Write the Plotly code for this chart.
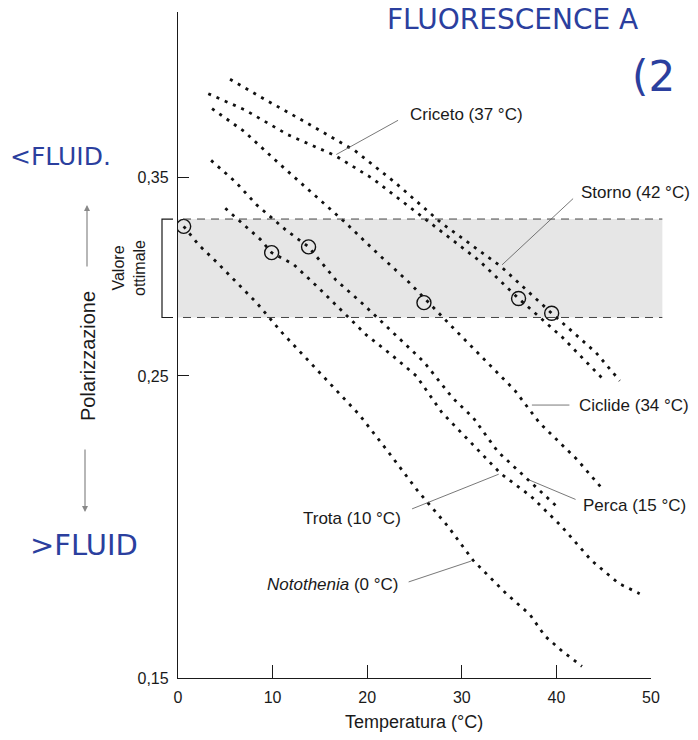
import numpy as np
import plotly.graph_objects as go

# ---------------- data ----------------
criceto_x = [3.2, 7.1, 11.6, 16.6, 20.6, 26.7, 31.8, 36.0, 40.6, 45.1]
criceto_y = [0.403, 0.392, 0.376, 0.363, 0.349, 0.324, 0.304, 0.285, 0.267, 0.248]

storno_x = [5.5, 9.2, 13.5, 18.7, 22.9, 27.8, 34.1, 39.5, 44.2, 46.7]
storno_y = [0.413, 0.399, 0.384, 0.366, 0.347, 0.324, 0.301, 0.278, 0.260, 0.248]

ciclide_x = [3.6, 7.0, 10.7, 14.3, 17.7, 21.0, 24.4, 28.9, 32.6, 35.6, 38.2, 42.2, 45.0]
ciclide_y = [0.393, 0.378, 0.358, 0.340, 0.324, 0.308, 0.293, 0.272, 0.256, 0.244, 0.231, 0.217, 0.206]

perca_x = [3.5, 6.1, 8.3, 11.4, 13.8, 16.7, 19.4, 23.2, 26.0, 29.0, 31.2, 33.8, 36.9, 40.2]
perca_y = [0.360, 0.347, 0.334, 0.320, 0.311, 0.294, 0.283, 0.267, 0.256, 0.241, 0.233, 0.220, 0.210, 0.200]

trota_x = [5.0, 6.7, 8.7, 9.9, 12.2, 14.9, 17.3, 19.9, 22.6, 25.2, 27.9, 31.1, 34.1, 37.3, 40.5, 43.7, 46.6, 48.8]
trota_y = [0.332, 0.324, 0.315, 0.308, 0.302, 0.290, 0.279, 0.268, 0.259, 0.250, 0.235, 0.223, 0.212, 0.204, 0.194, 0.183, 0.176, 0.173]

noto_x = [0.6, 2.2, 4.1, 6.2, 8.3, 11.0, 13.7, 16.2, 19.2, 22.2, 25.3, 28.5, 31.2, 34.7, 37.2, 38.8, 40.6, 42.7]
noto_y = [0.322, 0.312, 0.303, 0.293, 0.283, 0.269, 0.257, 0.246, 0.234, 0.220, 0.206, 0.194, 0.183, 0.173, 0.167, 0.161, 0.157, 0.153]

# optimum points (circles): Notothenia, Trota, Perca, Ciclide, Criceto, Storno
opt_x = [0.6, 9.9, 13.8, 26.0, 36.0, 39.5]
opt_y = [0.322, 0.308, 0.311, 0.283, 0.285, 0.278]

# optimal polarization band
band_lo, band_hi = 0.276, 0.326
band_xmax = 51.2

# labels and the points where their leader lines touch the curves
label_text = ["Criceto (37 °C)", "Storno (42 °C)", "Ciclide (34 °C)",
              "Perca (15 °C)", "Trota (10 °C)", "<i>Notothenia</i> (0 °C)"]
label_x = [16.55, 34.1, 37.2, 36.9, 34.1, 31.2]
label_y = [0.363, 0.301, 0.238, 0.210, 0.212, 0.183]

x_tickvals = [0, 10, 20, 30, 40, 50]
y_tickvals = [0.15, 0.25, 0.35]
y_ticktext = ["0,15", "0,25", "0,35"]

# ---------------- layout geometry ----------------
W, H = 698, 740
L, T = 178, 12
PW, PH = 473, 666
X_RANGE = [0, 50]
Y_LOG = [np.log10(0.15), -0.3347]

def xpap(v):
    return (v - X_RANGE[0]) / (X_RANGE[1] - X_RANGE[0])

def ypap(v):
    return (np.log10(v) - Y_LOG[0]) / (Y_LOG[1] - Y_LOG[0])

def pxp(px):
    return (px - L) / PW

def pyp(py):
    return (T + PH - py) / PH

FONT = "Liberation Sans, Arial, sans-serif"
INK = "#1a1a1a"
BLUE = "#2b3f9e"

fig = go.Figure()

series = [(criceto_x, criceto_y), (storno_x, storno_y), (ciclide_x, ciclide_y),
          (perca_x, perca_y), (trota_x, trota_y), (noto_x, noto_y)]
for sx, sy in series:
    fig.add_trace(go.Scatter(x=sx, y=sy, mode="lines",
                             line=dict(color="#111", width=2.8, dash="3px,6px"),
                             hoverinfo="skip", showlegend=False))

fig.add_trace(go.Scatter(x=opt_x, y=opt_y, mode="markers",
                         marker=dict(symbol="circle-open", size=14, color="#111",
                                     line=dict(color="#111", width=1.4)),
                         showlegend=False, hoverinfo="skip"))

shapes = []
# band
shapes.append(dict(type="rect", xref="paper", yref="paper",
                   x0=xpap(0), x1=xpap(band_xmax), y0=ypap(band_lo), y1=ypap(band_hi),
                   fillcolor="#e6e6e6", line=dict(width=0), layer="below"))
for yv in (band_lo, band_hi):
    shapes.append(dict(type="line", xref="paper", yref="paper",
                       x0=pxp(183), x1=xpap(band_xmax), y0=ypap(yv), y1=ypap(yv),
                       line=dict(color="#444", width=1, dash="8px,6px")))
# bracket for "Valore ottimale"
bx0, bx1 = pxp(162), pxp(173)
shapes.append(dict(type="path", xref="paper", yref="paper",
                   path=f"M {bx1},{ypap(band_hi)} L {bx0},{ypap(band_hi)} L {bx0},{ypap(band_lo)} L {bx1},{ypap(band_lo)}",
                   line=dict(color=INK, width=1.2)))

annotations = []
# leader lines (head on curve, tail towards label) and labels
leader = [  # ax, ay, xanchor, xshift, yshift
    (65, -36, "left", 73, 41),
    (74, -69, "left", 78, 74),
    (41, 0, "left", 47, 0),
    (50, 21, "left", 54, -26),
    (-90, 36, "right", -98, -45),
    (-66, 22, "right", -72, -24),
]
for txt, lx, ly, (ax, ay, xa, xs, ys) in zip(label_text, label_x, label_y, leader):
    annotations.append(dict(x=lx, y=np.log10(ly), xref="x", yref="y", text="",
                            showarrow=True, arrowhead=0, arrowwidth=0.8,
                            arrowcolor="#555", ax=ax, ay=ay, standoff=2))
    annotations.append(dict(x=lx, y=np.log10(ly), xref="x", yref="y", text=txt,
                            showarrow=False, xanchor=xa, yanchor="middle",
                            xshift=xs, yshift=ys,
                            font=dict(family=FONT, size=17, color=INK)))

def note(px, py, text, size, color=INK, family=FONT, xanchor="center", angle=0):
    annotations.append(dict(x=pxp(px), y=pyp(py), xref="paper", yref="paper",
                            text=text, showarrow=False, textangle=angle,
                            xanchor=xanchor, yanchor="middle",
                            font=dict(family=family, size=size, color=color)))

# axis titles and side notes
note(414, 722, "Temperatura (°C)", 18)
note(88, 356, "Polarizzazione", 20, angle=-90)
note(129, 268, "Valore<br>ottimale", 16, angle=-90)
annotations.append(dict(x=pxp(87), y=pyp(205), xref="paper", yref="paper", text="",
                        showarrow=True, arrowhead=2, arrowsize=1, arrowwidth=1.2,
                        arrowcolor="#888", ax=0, ay=63))
annotations.append(dict(x=pxp(85), y=pyp(512), xref="paper", yref="paper", text="",
                        showarrow=True, arrowhead=2, arrowsize=1, arrowwidth=1.2,
                        arrowcolor="#888", ax=0, ay=-64))

# handwritten notes
HAND = "DejaVu Sans, sans-serif"
note(385, 20, "FLUORESCENCE A", 28, BLUE, HAND, "left")
note(630, 76, "(2", 42, BLUE, HAND, "left")
note(8, 156, "&lt;FLUID.", 25, BLUE, HAND, "left")
note(28, 545, "&gt;FLUID", 29, BLUE, HAND, "left")

fig.update_layout(
    width=W, height=H,
    margin=dict(l=L, r=W - L - PW, t=T, b=H - T - PH, pad=0),
    paper_bgcolor="white", plot_bgcolor="rgba(0,0,0,0)",
    shapes=shapes, annotations=annotations,
    font=dict(family=FONT, size=16, color=INK),
    xaxis=dict(range=X_RANGE, showgrid=False, zeroline=False,
               showline=True, linecolor=INK, linewidth=1.3,
               ticks="inside", ticklen=13, tickwidth=1.2, tickcolor=INK,
               tickvals=x_tickvals, ticklabelstandoff=5,
               tickfont=dict(family=FONT, size=16, color=INK)),
    yaxis=dict(type="log", range=Y_LOG, showgrid=False, zeroline=False,
               showline=True, linecolor=INK, linewidth=1.3,
               ticks="inside", ticklen=11, tickwidth=1.2, tickcolor=INK,
               tickvals=y_tickvals, ticktext=y_ticktext, ticklabelstandoff=5,
               tickfont=dict(family=FONT, size=16, color=INK)),
)

fig.write_html("out.html", config={"displayModeBar": False},
               post_script="document.body.style.margin='0px';")
